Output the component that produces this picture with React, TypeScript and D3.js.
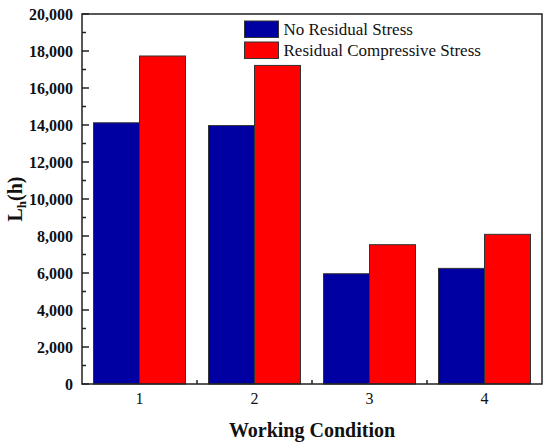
import React from "react";
import * as d3 from "d3";

const categories = ["1", "2", "3", "4"];
const seriesNames = ["No Residual Stress", "Residual Compressive Stress"];
const noResidual = [14120, 13970, 5960, 6250];
const compressive = [17730, 17220, 7530, 8090];
const yTicks = [0, 2000, 4000, 6000, 8000, 10000, 12000, 14000, 16000, 18000, 20000];
const colors = ["#0000A2", "#FF0000"];

const W = 550;
const H = 448;
const M = { left: 82, top: 14, right: 542, bottom: 384 };
const FONT = "'Liberation Serif', 'Times New Roman', serif";

export default function App() {
  const x = d3.scaleBand<string>().domain(categories).range([M.left, M.right]).padding(0);
  const y = d3.scaleLinear().domain([0, 20000]).range([M.bottom, M.top]);
  const inner = d3
    .scaleBand<number>()
    .domain([0, 1])
    .range([0, x.bandwidth()])
    .paddingInner(0)
    .paddingOuter(0.25);
  const series = [noResidual, compressive];
  const minorY = d3.range(1000, 20000, 2000);
  const fmt = d3.format(",");
  const bw = x.bandwidth();

  return (
    <svg width={W} height={H} style={{ position: "absolute", left: 0, top: 0 }}>
      <rect x={0} y={0} width={W} height={H} fill="#fff" />
      {/* bars */}
      {categories.map((c, i) =>
        series.map((s, k) => (
          <rect
            key={c + k}
            x={(x(c) as number) + (inner(k) as number)}
            y={y(s[i])}
            width={inner.bandwidth()}
            height={y(0) - y(s[i])}
            fill={colors[k]}
            stroke="#333"
            strokeWidth={1}
          />
        ))
      )}
      {/* y ticks */}
      {yTicks.map((t) => (
        <g key={t}>
          <line x1={M.left} x2={M.left + 7} y1={y(t)} y2={y(t)} stroke="#222" strokeWidth={1.5} />
          <text
            x={M.left - 9}
            y={y(t)}
            dy="0.35em"
            textAnchor="end"
            fontFamily={FONT}
            fontWeight="bold"
            fontSize={16}
            fill="#111"
          >
            {fmt(t)}
          </text>
        </g>
      ))}
      {minorY.map((t) => (
        <line key={t} x1={M.left} x2={M.left + 4} y1={y(t)} y2={y(t)} stroke="#222" strokeWidth={1.5} />
      ))}
      {/* x minor ticks between categories */}
      {categories.slice(1).map((c) => (
        <line
          key={c}
          x1={x(c) as number}
          x2={x(c) as number}
          y1={M.bottom}
          y2={M.bottom - 4}
          stroke="#222"
          strokeWidth={1.5}
        />
      ))}
      {/* x tick labels */}
      {categories.map((c) => (
        <text
          key={c}
          x={(x(c) as number) + bw / 2}
          y={404}
          textAnchor="middle"
          fontFamily={FONT}
          fontSize={16}
          fill="#111"
        >
          {c}
        </text>
      ))}
      {/* frame */}
      <rect
        x={M.left}
        y={M.top}
        width={M.right - M.left}
        height={M.bottom - M.top}
        fill="none"
        stroke="#222"
        strokeWidth={1.5}
      />
      {/* legend */}
      {seriesNames.map((n, k) => (
        <g key={n} transform={`translate(244.5, ${21 + k * 21})`}>
          <rect x={0} y={0} width={34} height={16.5} fill={colors[k]} stroke="#333" strokeWidth={1} />
          <text x={39} y={8.5} dy="0.35em" fontFamily={FONT} fontSize={17} fill="#111">
            {n}
          </text>
        </g>
      ))}
      {/* axis titles */}
      <text
        x={(M.left + M.right) / 2}
        y={437}
        textAnchor="middle"
        fontFamily={FONT}
        fontWeight="bold"
        fontSize={20}
        fill="#111"
      >
        Working Condition
      </text>
      <text
        transform={`translate(22, ${(M.top + M.bottom) / 2}) rotate(-90)`}
        textAnchor="middle"
        fontFamily={FONT}
        fontWeight="bold"
        fontSize={20}
        fill="#111"
      >
        L<tspan fontSize={13} dy={4}>h</tspan>
        <tspan dy={-4}>(h)</tspan>
      </text>
    </svg>
  );
}
